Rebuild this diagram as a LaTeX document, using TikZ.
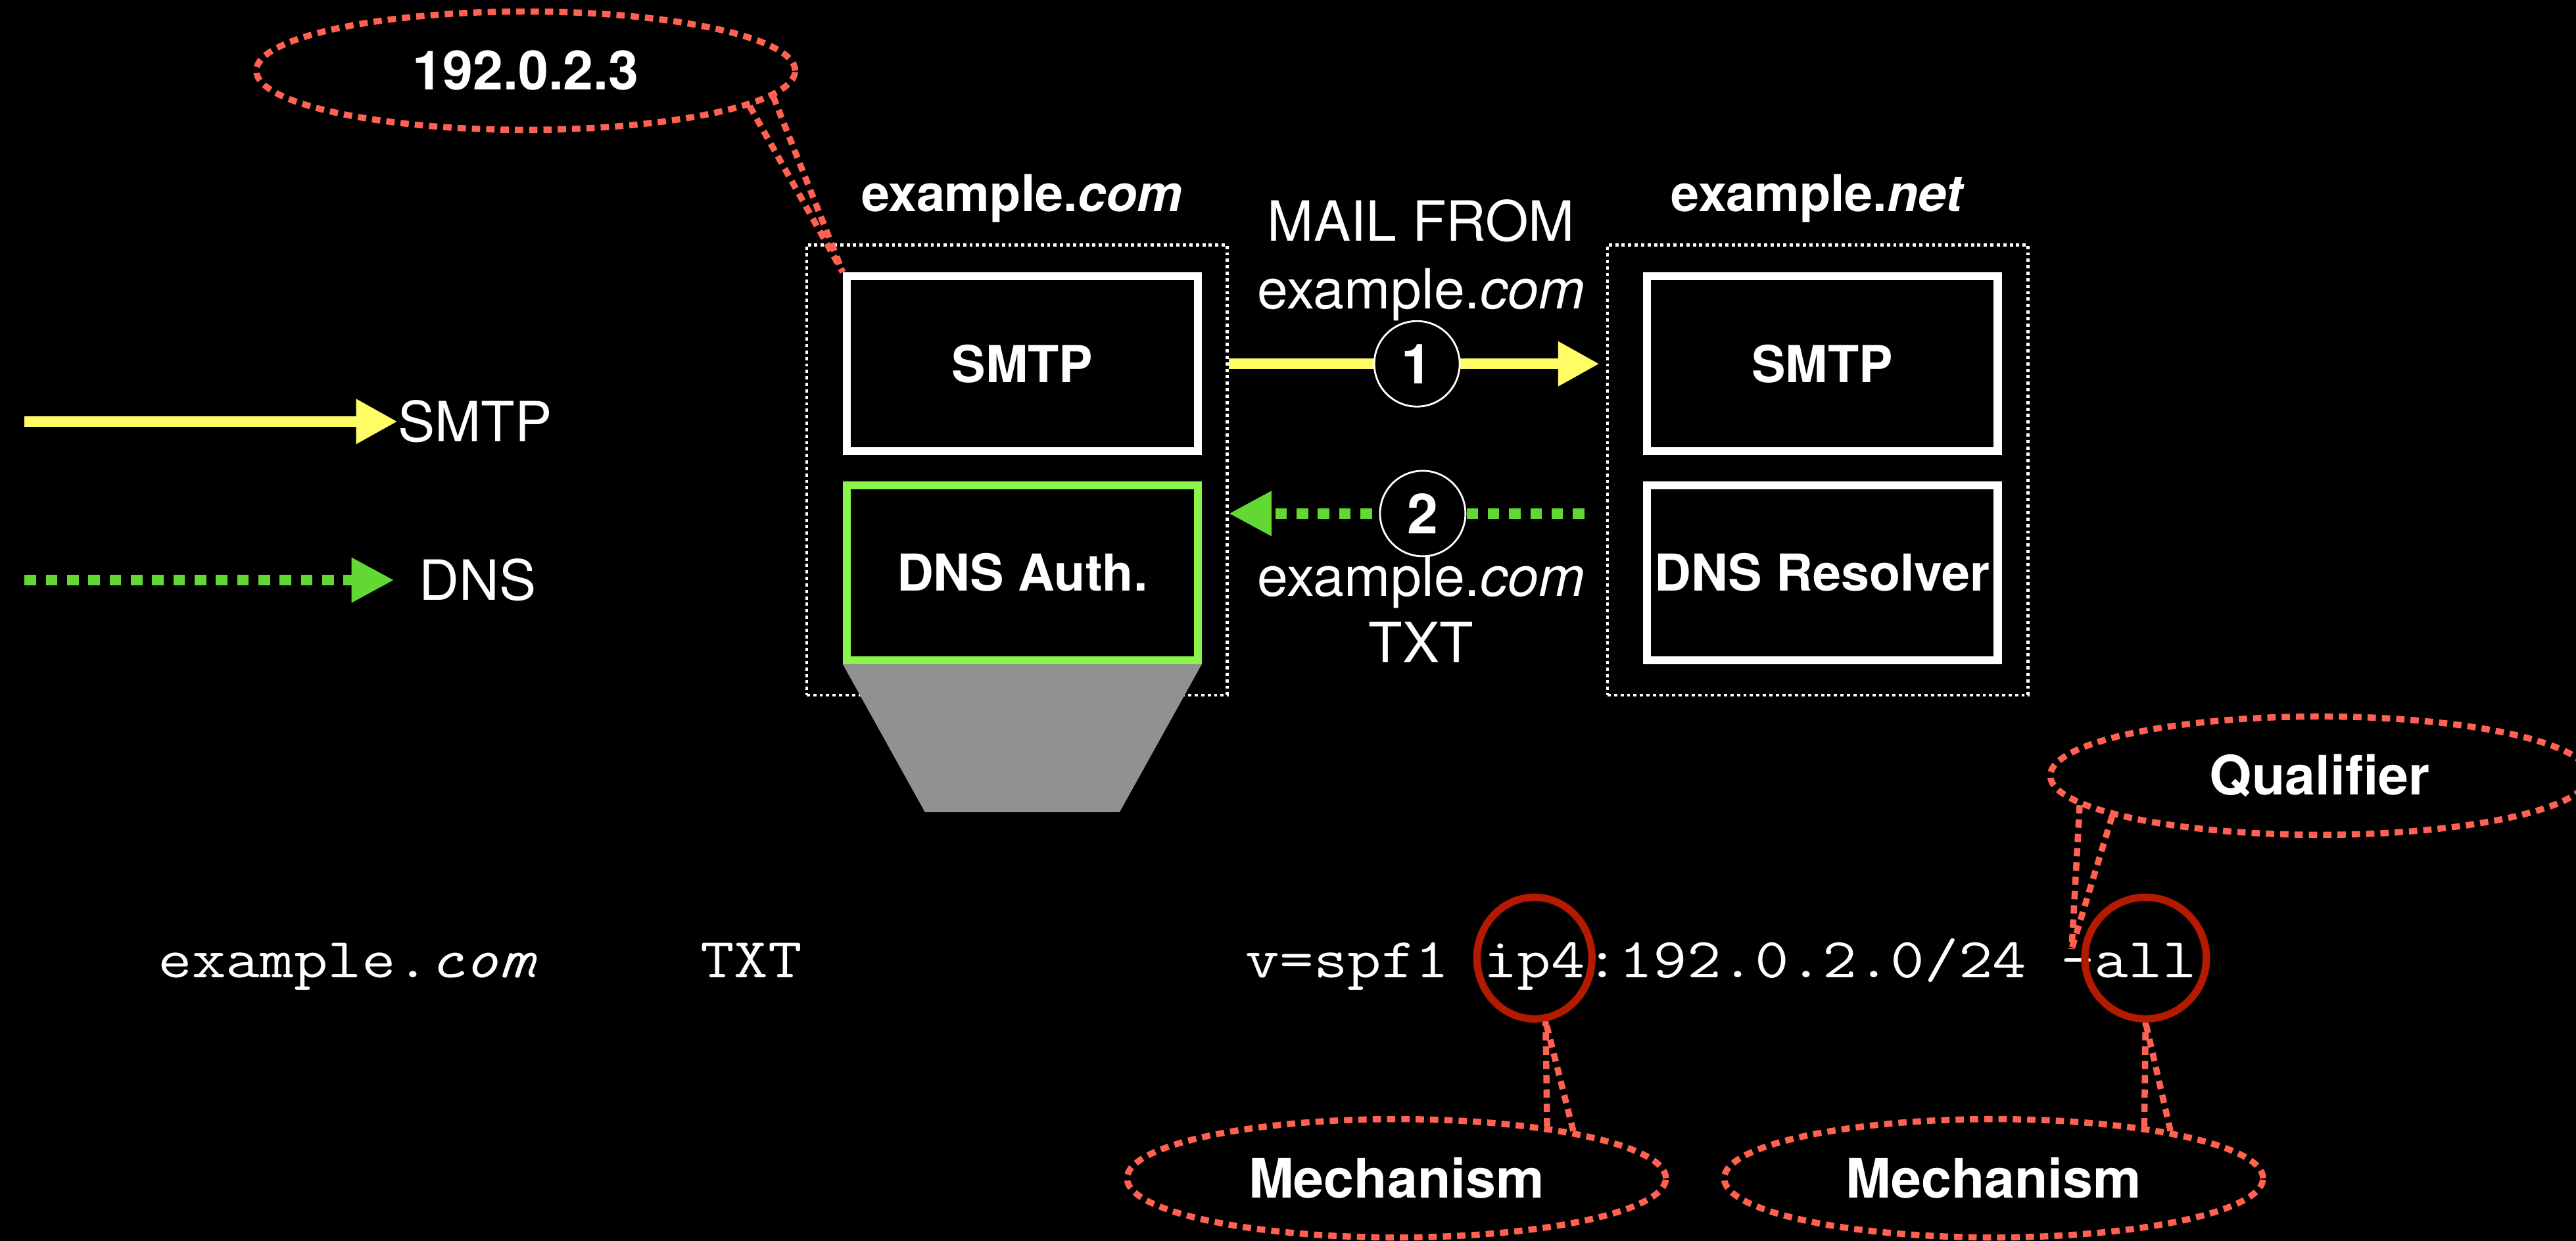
\documentclass[tikz,border=0pt]{standalone}
\usepackage{fontspec}
\setmainfont{TeX Gyre Heros}
\setmonofont{Latin Modern Mono}[FakeStretch=1.17]
\usetikzlibrary{calc,shapes.geometric,arrows.meta}

\definecolor{smtpyellow}{RGB}{255,252,102}
\definecolor{dnsgreen}{RGB}{99,216,53}
\definecolor{authgreen}{RGB}{138,246,74}
\definecolor{calloutred}{RGB}{255,98,80}
\definecolor{ringred}{RGB}{180,26,0}
\definecolor{funnelgray}{RGB}{145,145,145}

\begin{document}
\begin{tikzpicture}[x=0.25mm,y=-0.25mm,
  server/.style={draw=white,line width=3.5pt,minimum width=53.4mm,minimum height=26.6mm,
    inner sep=0pt,text=white,font=\bfseries\fontsize{22}{26}\selectfont},
  zone/.style={draw=white,line width=1.3pt,dash pattern=on 1.4pt off 1.4pt,
    minimum width=64mm,minimum height=68.5mm},
  hdr/.style={text=white,inner sep=0pt,font=\bfseries\fontsize{22}{26}\selectfont},
  lbl/.style={text=white,inner sep=0pt,font=\fontsize{24}{28}\selectfont},
  seq/.style={circle,draw=white,line width=0.8pt,fill=black,minimum size=13mm,inner sep=0pt,
    text=white,font=\bfseries\fontsize{24}{28}\selectfont},
  smtparrow/.style={draw=smtpyellow,line width=4.5pt,-{Triangle[length=6.3mm,width=6.4mm]}},
  dnsarrow/.style={draw=dnsgreen,line width=4.5pt,dash pattern=on 5pt off 4.2pt,
    -{Triangle[length=6.5mm,width=6.4mm]}},
  zonetxt/.style={text=white,inner sep=0pt,anchor=base west,font=\ttfamily\fontsize{24.4}{28}\selectfont},
  ring/.style={ellipse,draw=ringred,line width=3.2pt,inner sep=0pt},
  callout/.style={ellipse,draw=calloutred,line width=2.7pt,dash pattern=on 3.6pt off 2.6pt,
    minimum width=82mm,minimum height=18mm,inner sep=0pt,text=white,
    font=\bfseries\fontsize{23.5}{28}\selectfont},
  tail/.style={draw=calloutred,line width=2.7pt,dash pattern=on 3.6pt off 2.6pt}]

  \fill[black] (0,0) rectangle (1568,755);
  \useasboundingbox (0,0) rectangle (1568,755);

  %% Sending and receiving domains
  \node[zone] (comZone) at (619,286) {};
  \node[zone] (netZone) at (1106.5,286) {};
  \node[hdr,anchor=base] (comName) at (622,128.7) {example.\textit{com}};
  \node[hdr,anchor=base] (netName) at (1106.6,128.7) {example.\textit{net}};

  \node[server] (smtpA) at (622.25,221.25) {SMTP};
  \node[server,draw=authgreen] (dnsA) at (622.25,348.5) {DNS Auth.};
  \node[server] (smtpB) at (1109.25,221.25) {SMTP};
  \node[server] (dnsB) at (1109.25,348.5) {DNS Resolver};

  %% zone data below the authoritative server
  \fill[funnelgray] (dnsA.south west) -- (dnsA.south east) -- ++(-50,90)
    -- ($(dnsA.south west)+(50,90)$) -- cycle;

  %% Messages between the two sides
  \coordinate (msg1) at (862.5,221.4);
  \coordinate (msg2) at (866,312.5);
  \draw[smtparrow,shorten >=1mm] (comZone.east |- msg1) -- (netZone.west |- msg1);
  \draw[dnsarrow,shorten <=3.3mm] (netZone.west |- msg2) -- (comZone.east |- msg2);
  \node[seq] (num1) at (msg1) {1};
  \node[seq] (num2) at (msg2) {2};

  \node[lbl,anchor=base] (mailFrom) at (865,146.6) {MAIL FROM};
  \node[lbl,anchor=base] (fromDom) at (865,188) {example.\textit{com}};
  \node[lbl,anchor=base] (qName) at (865,362.6) {example.\textit{com}};
  \node[lbl,anchor=base] (qType) at (865,403) {TXT};

  %% Legend
  \coordinate (legS0) at (15,256.5);
  \coordinate (legD0) at (15,353);
  \node[lbl,anchor=west] (legSmtp) at (242,256.5) {SMTP};
  \node[lbl,anchor=west] (legDns) at (255,353) {DNS};
  \draw[smtparrow] (legS0) -- (legSmtp.west);
  \draw[dnsarrow,shorten >=3.75mm] (legD0) -- (legDns.west);

  %% The TXT record
  \node[zonetxt] (rrName) at (96,595) {example.\textit{com}};
  \node[zonetxt] (rrType) at (426,595) {TXT};
  \node[zonetxt] (rrData) at (758,595) {v=spf1 ip4:192.0.2.0/24 -all};
  \node[ring,minimum width=17.5mm,minimum height=18.5mm] (ipRing) at (934,583) {};
  \node[ring,minimum width=18.5mm,minimum height=18.5mm] (allRing) at (1306,583) {};
  \coordinate (qualTip) at (1261,577.5);

  %% Callouts
  \node[callout] (ipNote) at (320,43) {192.0.2.3};
  \node[callout] (qualNote) at (1412,472) {Qualifier};
  \node[callout] (mechA) at (850,717) {Mechanism};
  \node[callout] (mechB) at (1213.5,717) {Mechanism};

  \draw[tail] (ipNote.-9.7) -- (smtpA.north west);
  \draw[tail] (ipNote.-6.7) -- (smtpA.north west);
  \draw[tail] (qualNote.187.4) -- (qualTip);
  \draw[tail] (qualNote.191.1) -- (qualTip);
  \draw[tail] (mechA.19) -- (ipRing.-80);
  \draw[tail] (mechA.15) -- (ipRing.-80);
  \draw[tail] (mechB.19) -- (allRing.south);
  \draw[tail] (mechB.15) -- (allRing.south);
\end{tikzpicture}
\end{document}
